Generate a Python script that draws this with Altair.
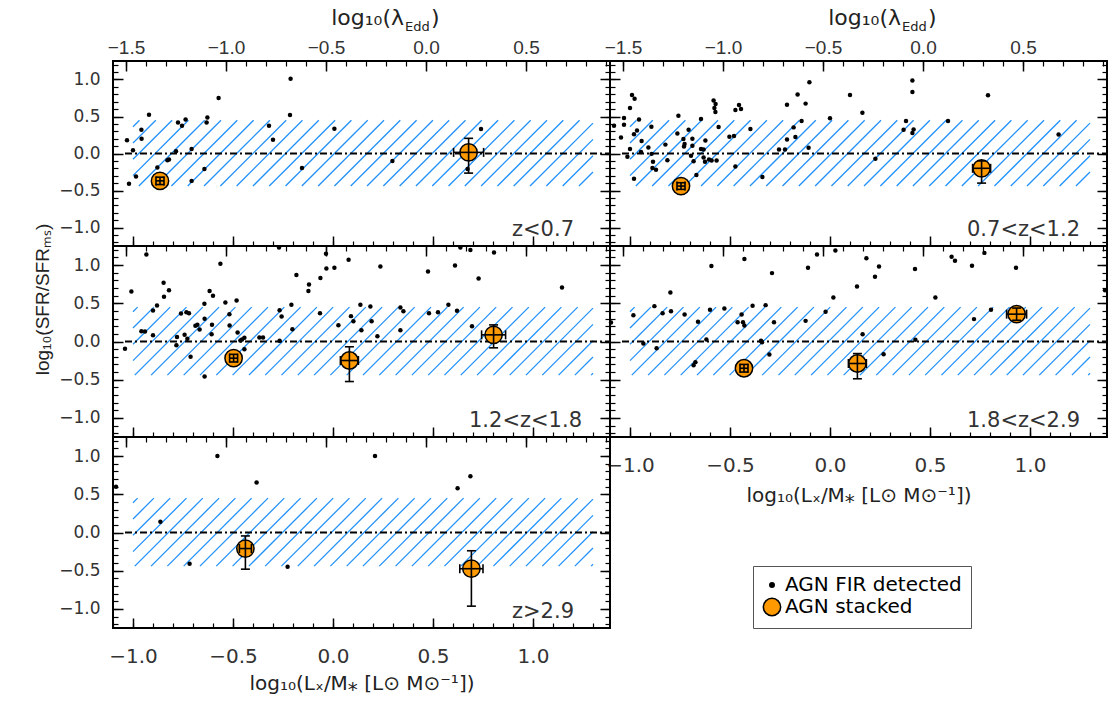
import altair as alt
import numpy as np
import pandas as pd

# ------------------------------------------------------------------ data
Z_LABELS = ["z<0.7", "0.7<z<1.2", "1.2<z<1.8", "1.8<z<2.9", "z>2.9"]
KINDS = ["AGN FIR detected", "AGN stacked"]

DET1 = [(-1.03, 0.18), (-1.02, -0.41), (-1.0, 0.045), (-0.985, -0.31), (-0.958, 0.32),
        (-0.957, 0.2), (-0.92, 0.525), (-0.878, -0.19), (-0.828, -0.09), (-0.82, -0.08),
        (-0.785, 0.03), (-0.775, 0.42), (-0.755, 0.375), (-0.737, 0.46), (-0.707, 0.06),
        (-0.707, -0.37), (-0.643, -0.21), (-0.632, 0.42), (-0.628, 0.485), (-0.572, 0.75),
        (-0.32, 0.375), (-0.3, 0.185), (-0.215, 0.52), (-0.212, 1.01), (-0.155, -0.195),
        (0.007, 0.335), (0.297, -0.1), (0.673, -0.21), (0.74, 0.33)]

DET2 = [(-1.08, 0.375), (-1.045, 0.217), (-1.03, 0.48), (-1.03, 0.39), (-1.013, -0.045),
        (-1.0, 0.615), (-1.0, 0.06), (-0.99, 0.79), (-0.977, 0.74), (-0.98, 0.26),
        (-0.98, -0.34), (-0.965, 0.31), (-0.955, 0.46), (-0.945, 0.02), (-0.942, 0.17),
        (-0.908, 0.08), (-0.893, 0.36), (-0.892, -0.005), (-0.885, -0.11), (-0.888, -0.195),
        (-0.87, -0.22), (-0.823, 0.12), (-0.813, -0.09), (-0.758, 0.51), (-0.763, 0.27),
        (-0.733, 0.195), (-0.73, 0.095), (-0.727, 0.127), (-0.707, 0.32), (-0.688, 0.2),
        (-0.688, 0.104), (-0.695, -0.03), (-0.682, -0.104), (-0.668, -0.29), (-0.645, 0.466),
        (-0.645, 0.06), (-0.632, 0.054), (-0.623, 0.176), (-0.632, -0.054), (-0.625, -0.11),
        (-0.605, -0.08), (-0.592, -0.095), (-0.567, -0.095), (-0.582, 0.715), (-0.572, 0.67),
        (-0.578, 0.615), (-0.573, 0.56), (-0.557, 0.357), (-0.503, 0.226), (-0.48, 0.235),
        (-0.473, -0.176), (-0.473, 0.588), (-0.455, 0.656), (-0.445, 0.6), (-0.398, 0.33),
        (-0.338, -0.317), (-0.255, 0.054), (-0.225, 0.054), (-0.215, 0.19), (-0.215, 0.66),
        (-0.182, 0.353), (-0.173, 0.222), (-0.162, 0.796), (-0.142, 0.44), (-0.122, 0.674),
        (-0.107, 0.077), (-0.103, 0.964), (0.0, 0.475), (0.1, 0.79), (0.162, 0.55),
        (0.227, -0.07), (0.368, 0.32), (0.38, 0.44), (0.412, 0.986), (0.412, 0.83),
        (0.418, 0.326), (0.412, 0.276), (0.59, 0.44), (0.79, 0.787), (1.143, 0.258)]

DET3 = [(-1.04, -0.096), (-1.008, 0.655), (-0.958, 0.135), (-0.94, 0.13), (-0.933, 1.14),
        (-0.9, 0.406), (-0.9, 0.083), (-0.88, 0.47), (-0.847, 0.77), (-0.845, 0.585),
        (-0.82, 0.67), (-0.783, -0.05), (-0.78, 0.06), (-0.76, 0.367), (-0.742, 0.087),
        (-0.733, 0.384), (-0.728, 0.035), (-0.72, 0.37), (-0.712, -0.2), (-0.688, 0.205),
        (-0.678, 0.218), (-0.667, 0.157), (-0.643, 0.493), (-0.642, 0.297), (-0.642, -0.458),
        (-0.617, 0.66), (-0.6, 0.6), (-0.605, 0.218), (-0.607, 0.096), (-0.563, 1.017),
        (-0.538, 0.51), (-0.518, 0.358), (-0.517, 0.21), (-0.482, 0.537), (-0.477, 0.118),
        (-0.463, 0.013), (-0.455, 0.026), (-0.443, 0.048), (-0.443, -0.1), (-0.368, 0.052),
        (-0.35, 0.052), (-0.27, 1.23), (-0.267, 0.41), (-0.257, 0.328), (-0.267, 0.009),
        (-0.208, 0.48), (-0.203, 0.16), (-0.183, 0.87), (-0.123, 0.66), (-0.12, 0.747),
        (-0.065, 0.37), (-0.063, 0.83), (-0.035, 1.15), (-0.033, 0.956), (0.007, 0.965),
        (0.027, 0.214), (0.078, 1.07), (0.09, 0.332), (0.102, 0.266), (0.137, 0.48),
        (0.142, 0.148), (0.187, 0.459), (0.193, 0.266), (0.222, 0.07), (0.237, 0.983),
        (0.337, 0.445), (0.337, 0.148), (0.352, 0.397), (0.475, 0.917), (0.48, 0.371),
        (0.525, 0.384), (0.577, 0.48), (0.61, 0.996), (0.62, 0.402), (0.637, 1.23),
        (0.687, 1.197), (0.695, 0.2), (0.728, 0.825), (0.805, 1.166), (1.145, 0.707)]

DET4 = [(-1.095, 0.25), (-0.983, 0.345), (-0.933, -0.026), (-0.878, 0.463), (-0.867, -0.087),
        (-0.837, 0.371), (-0.798, 0.642), (-0.795, 0.397), (-0.727, 0.354), (-0.682, -0.31),
        (-0.673, -0.27), (-0.66, 0.258), (-0.618, 0.026), (-0.6, 0.415), (-0.593, 0.987),
        (-0.528, 0.432), (-0.462, 0.253), (-0.442, 0.354), (-0.435, 0.253), (-0.428, 0.21),
        (-0.428, 1.08), (-0.387, 0.467), (-0.345, 0.009), (-0.34, -0.009), (-0.322, 0.476),
        (-0.303, -0.17), (-0.29, 0.895), (-0.28, 0.253), (-0.122, 0.27), (-0.11, 0.965),
        (-0.065, 1.14), (-0.022, 0.389), (0.017, 0.576), (0.027, 1.19), (0.135, 0.72),
        (0.163, 0.096), (0.182, 1.09), (0.225, 0.847), (0.245, 0.983), (0.268, -0.166),
        (0.425, 0.948), (0.427, 0.022), (0.527, 0.576), (0.608, 1.11), (0.625, 1.057),
        (0.71, 0.991), (0.72, 0.293), (0.772, 1.16), (0.805, 0.415), (0.93, 0.965),
        (1.375, 0.672)]

DET5 = [(-1.085, 0.6), (-0.863, 0.14), (-0.717, -0.41), (-0.578, 1.0), (-0.382, 0.654),
        (-0.227, -0.447), (0.21, 1.0), (0.623, 0.579), (0.687, 0.737)]

# stacked points: (x, y, x error, y error below, y error above)
STK1 = [(-0.865, -0.37, 0.02, 0.05, 0.05), (0.678, 0.015, 0.075, 0.28, 0.19)]
STK2 = [(-0.745, -0.44, 0.02, 0.045, 0.045), (0.758, -0.2, 0.045, 0.2, 0.1)]
STK3 = [(-0.497, -0.218, 0.02, 0.05, 0.05), (0.082, -0.249, 0.045, 0.275, 0.18),
        (0.803, 0.087, 0.06, 0.17, 0.13)]
STK4 = [(-0.43, -0.35, 0.02, 0.05, 0.05), (0.137, -0.288, 0.045, 0.2, 0.13),
        (0.933, 0.358, 0.05, 0.08, 0.08)]
STK5 = [(-0.438, -0.21, 0.03, 0.27, 0.165), (0.692, -0.474, 0.058, 0.49, 0.235)]

DET = [DET1, DET2, DET3, DET4, DET5]
STK = [STK1, STK2, STK3, STK4, STK5]

X_DOMAIN = [-1.1, 1.385]
Y_DOMAIN = [-1.25, 1.25]
X_MAJOR = [-1.0, -0.5, 0.0, 0.5, 1.0]
X_MINOR = [-1.1, -1.0, -0.9, -0.8, -0.7, -0.6, -0.5, -0.4, -0.3, -0.2, -0.1, 0.0,
           0.1, 0.2, 0.3, 0.4, 0.5, 0.6, 0.7, 0.8, 0.9, 1.0, 1.1, 1.2, 1.3]
Y_MAJOR = [-1.0, -0.5, 0.0, 0.5, 1.0]
Y_MINOR = [-1.2, -1.1, -1.0, -0.9, -0.8, -0.7, -0.6, -0.5, -0.4, -0.3, -0.2, -0.1, 0.0,
           0.1, 0.2, 0.3, 0.4, 0.5, 0.6, 0.7, 0.8, 0.9, 1.0, 1.1, 1.2]
LAMBDA_MAJOR = [-1.5, -1.0, -0.5, 0.0, 0.5]
LAMBDA_MINOR = [-1.5, -1.4, -1.3, -1.2, -1.1, -1.0, -0.9, -0.8, -0.7, -0.6, -0.5, -0.4,
                -0.3, -0.2, -0.1, 0.0, 0.1, 0.2, 0.3, 0.4, 0.5, 0.6, 0.7, 0.8, 0.9]
LAMBDA_SHIFT = 0.465          # log10(lambda_Edd) = log10(Lx/M*) - shift
BAND_X = [-1.0, 1.3]
BAND_Y = [-0.44, 0.45]
ZERO_X = [-1.04, 1.385]

# ------------------------------------------------------------------ style
W = 497
ROW_H = [185, 191, 191]
HATCH_STEP = 16.3
HATCH_PHASE = 4.2
BLUE = "#2191FB"
ORANGE = "#FF9900"
SANS = "DejaVu Sans"
NARROW = "Liberation Sans Narrow, Liberation Sans, sans-serif"
ZLAB_X = [461, 470, 469, 470, 461]
XTITLE_Y = {3: 64, 4: 61}

LEG = alt.Legend(orient="none", legendX=640, legendY=505, title=None,
                 strokeColor="#555", fillColor="white", padding=9,
                 labelFont=SANS, labelFontSize=20, labelColor="black", labelLimit=400,
                 symbolStrokeColor="black", symbolStrokeWidth=1.5,
                 labelOffset=3, rowPadding=0, symbolType="circle")
COLOR = alt.Color("kind:N", scale=alt.Scale(domain=KINDS, range=["black", ORANGE]), legend=LEG)
SIZE = alt.Size("kind:N", scale=alt.Scale(domain=KINDS, range=[20, 300]), legend=LEG)


def tick_axis(orient, values, major, **kw):
    L = 10 if major else 5
    base = dict(orient=orient, values=values, tickSize=alt.ExprRef(expr=str(-L)),
                tickColor="black", tickWidth=1.5 if major else 1.2, domain=False,
                grid=False, labelFlush=False, labelOverlap=False, labels=False, title=None)
    base.update(kw)
    return alt.Axis(**base)


def hatch_df(H):
    xmin, xmax = X_DOMAIN
    ymin, ymax = Y_DOMAIN
    sx = W / (xmax - xmin)
    sy = H / (ymax - ymin)
    P0 = (BAND_X[0] - xmin) * sx
    P1 = (BAND_X[1] - xmin) * sx
    Q0 = (ymax - BAND_Y[1]) * sy
    Q1 = (ymax - BAND_Y[0]) * sy
    rows = []
    k0 = int(np.floor((P0 + Q0 - HATCH_PHASE) / HATCH_STEP))
    k1 = int(np.ceil((P1 + Q1 - HATCH_PHASE) / HATCH_STEP))
    for k in range(k0, k1 + 1):
        c = HATCH_PHASE + k * HATCH_STEP
        lo = max(Q0, c - P1)
        hi = min(Q1, c - P0)
        if hi - lo > 1:
            rows.append(dict(x=xmin + (c - lo) / sx, y=ymax - lo / sy,
                             x2=xmin + (c - hi) / sx, y2=ymax - hi / sy))
    return pd.DataFrame(rows)


def panel(i):
    r, col = divmod(i, 2)
    H = ROW_H[r]
    xs = alt.Scale(domain=X_DOMAIN, nice=False, zero=False)
    ys = alt.Scale(domain=Y_DOMAIN, nice=False, zero=False)

    # axes
    bkw = {}
    if i in (3, 4):
        bkw = dict(labels=True, format=".1f", labelFont=SANS, labelFontSize=20,
                   labelColor="#333", labelBaseline="alphabetic", labelPadding=44,
                   title="log₁₀(Lₓ/M⁎ [L⊙ M⊙⁻¹])", titleFont=SANS, titleFontSize=20,
                   titleFontWeight="normal", titleColor="#222", titleBaseline="alphabetic",
                   titleY=XTITLE_Y[i])
    ax_bottom = tick_axis("bottom", X_MAJOR, True, **bkw)
    tkw = {}
    if r == 0:
        tkw = dict(labels=True,
                   labelExpr=f"format(round((datum.value - {LAMBDA_SHIFT})*10)/10, '.1f')",
                   labelFont=NARROW, labelFontSize=19, labelColor="#333",
                   labelBaseline="alphabetic", labelPadding=18)
    ax_top = tick_axis("top", [v + LAMBDA_SHIFT for v in LAMBDA_MAJOR], True, **tkw)
    lkw = {}
    if col == 0:
        lkw = dict(labels=True, format=".1f", labelFont=SANS, labelFontSize=17,
                   labelColor="#333", labelPadding=23)
    if i == 2:
        lkw.update(title="log₁₀(SFR/SFRₘₛ)", titleFont=NARROW, titleFontSize=19,
                   titleFontWeight="normal", titleColor="#222", titleX=-71, titleY=53,
                   titleAngle=270, titleAlign="center", titleBaseline="middle")
    ax_left = tick_axis("left", Y_MAJOR, True, **lkw)
    ax_right = tick_axis("right", Y_MAJOR, True)

    hatch = alt.Chart(hatch_df(H)).mark_rule(color=BLUE, strokeWidth=1.3).encode(
        x=alt.X("x:Q", scale=xs, axis=ax_bottom), x2="x2:Q",
        y=alt.Y("y:Q", scale=ys, axis=ax_left), y2="y2:Q")

    zero = alt.Chart(pd.DataFrame({"x": [ZERO_X[0]], "x2": [ZERO_X[1]], "y": [0.0]})).mark_rule(
        color="black", strokeWidth=1.8, strokeDash=[7, 3, 2, 3]).encode(
        x=alt.X("x:Q", scale=xs, axis=ax_top), x2="x2:Q",
        y=alt.Y("y:Q", scale=ys, axis=ax_right))

    det = pd.DataFrame(DET[i], columns=["x", "y"]).assign(kind=KINDS[0])
    scatter = alt.Chart(det).mark_circle(opacity=1).encode(
        x=alt.X("x:Q", scale=xs, axis=tick_axis("bottom", X_MINOR, False)),
        y=alt.Y("y:Q", scale=ys, axis=tick_axis("left", Y_MINOR, False)),
        color=COLOR, size=SIZE)

    stk = pd.DataFrame(STK[i], columns=["x", "y", "xerr", "ylo", "yhi"]).assign(kind=KINDS[1])
    stk["xl"] = stk.x - stk.xerr
    stk["xh"] = stk.x + stk.xerr
    stk["yl"] = stk.y - stk.ylo
    stk["yh"] = stk.y + stk.yhi

    stacked = alt.Chart(stk).mark_circle(opacity=1, stroke="black", strokeWidth=1.5).encode(
        x=alt.X("x:Q", scale=xs,
                axis=tick_axis("top", [v + LAMBDA_SHIFT for v in LAMBDA_MINOR], False)),
        y=alt.Y("y:Q", scale=ys, axis=tick_axis("right", Y_MINOR, False)),
        color=COLOR, size=SIZE)

    errx = alt.Chart(stk).mark_rule(color="black", strokeWidth=1.6).encode(
        x=alt.X("xl:Q", scale=xs, axis=None), x2="xh:Q",
        y=alt.Y("y:Q", scale=ys, axis=None))
    erry = alt.Chart(stk).mark_rule(color="black", strokeWidth=1.6).encode(
        x=alt.X("x:Q", scale=xs, axis=None),
        y=alt.Y("yl:Q", scale=ys, axis=None), y2="yh:Q")
    capx = alt.Chart(stk).transform_fold(["xl", "xh"], as_=["end", "xc"]).mark_tick(
        orient="vertical", size=9, thickness=1.6, color="black", opacity=1).encode(
        x=alt.X("xc:Q", scale=xs, axis=None), y=alt.Y("y:Q", scale=ys, axis=None))
    capy = alt.Chart(stk).transform_fold(["yl", "yh"], as_=["end", "yc"]).mark_tick(
        orient="horizontal", size=9, thickness=1.6, color="black", opacity=1).encode(
        x=alt.X("x:Q", scale=xs, axis=None), y=alt.Y("yc:Q", scale=ys, axis=None))

    zlab = alt.Chart(pd.DataFrame({"t": [Z_LABELS[i]]})).mark_text(
        align="right", baseline="alphabetic", font=SANS, fontSize=21, color="#333").encode(
        x=alt.value(ZLAB_X[i]), y=alt.value(H - 10), text="t:N")

    layers = [hatch, zero, scatter, stacked, errx, erry, capx, capy, zlab]

    if r == 0:
        tmain = alt.Chart(pd.DataFrame({"t": ["log₁₀(λ"]})).mark_text(
            align="right", baseline="alphabetic", font=SANS, fontSize=22, color="#222").encode(
            x=alt.value(291), y=alt.value(-36), text="t:N")
        tsub = alt.Chart(pd.DataFrame({"t": ["Edd"]})).mark_text(
            align="left", baseline="alphabetic", font=SANS, fontSize=13, color="#222").encode(
            x=alt.value(292), y=alt.value(-30), text="t:N")
        tend = alt.Chart(pd.DataFrame({"t": [")"]})).mark_text(
            align="left", baseline="alphabetic", font=SANS, fontSize=22, color="#222").encode(
            x=alt.value(318), y=alt.value(-36), text="t:N")
        layers += [tmain, tsub, tend]

    return alt.layer(*layers).resolve_scale(x="independent", y="independent").properties(
        width=W, height=H)


chart = alt.concat(*[panel(i) for i in range(5)], columns=2, spacing=0, bounds="flush").properties(
    padding={"left": 31, "top": 6, "right": 5, "bottom": 5}, background="white"
).configure_view(stroke="black", strokeWidth=2)

chart.save("out.html", embed_options={"renderer": "svg", "actions": False})
